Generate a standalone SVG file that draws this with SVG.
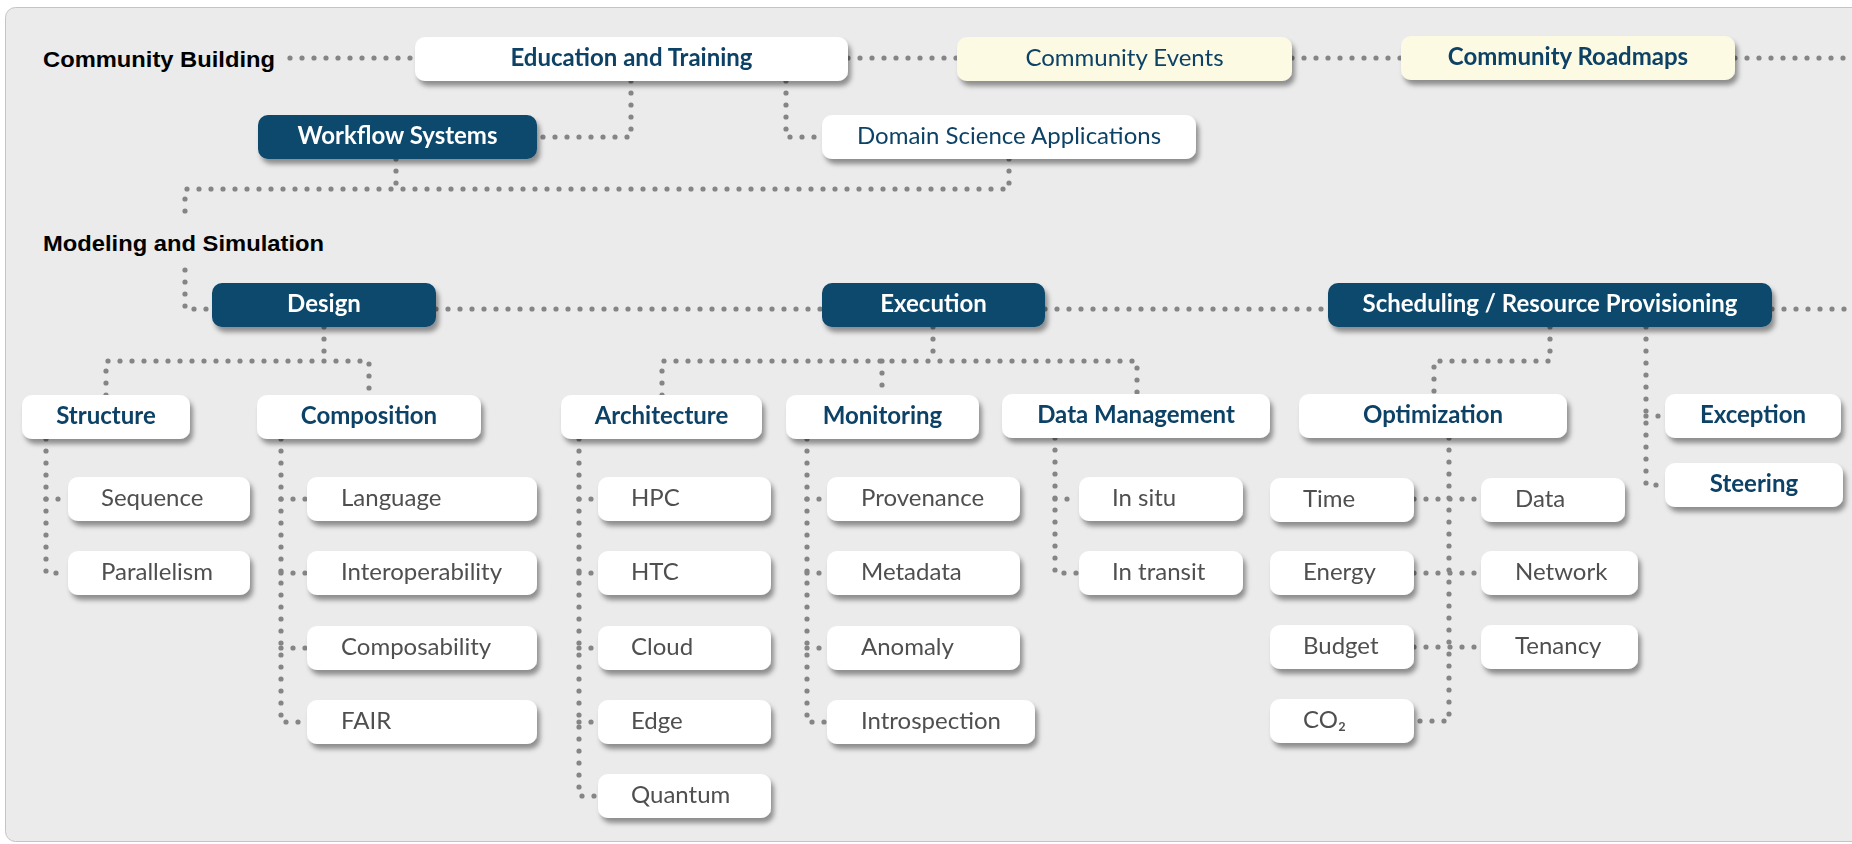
<svg xmlns="http://www.w3.org/2000/svg" width="1852" height="844" viewBox="0 0 1852 844">
  <defs>
    <filter id="shadow" x="-10%" y="-30%" width="130%" height="180%">
      <feDropShadow dx="3" dy="5" stdDeviation="2.6" flood-color="#000" flood-opacity="0.4"/>
    </filter>
    <style>
      .panel { fill: #ebebeb; stroke: #c4c4c4; stroke-width: 1; }
      .section { font-family: "Liberation Sans", Arial, sans-serif; font-weight: bold; font-size: 21.5px; fill: #000; }
      .box { filter: url(#shadow); }
      .box rect { rx: 10; ry: 10; }
      .white rect { fill: #ffffff; }
      .cream rect { fill: #fdfae4; }
      .dark rect { fill: #0a486c; }
      .box text { font-family: Lato, "Noto Sans", sans-serif; font-size: 24px; }
      .head text { font-weight: bold; text-anchor: middle; fill: #0b4266; }
      .dark text { fill: #ffffff; }
      .plain text { font-weight: normal; text-anchor: middle; fill: #0b4266; }
      .leaf text { font-weight: normal; fill: #4f4f4f; }
      .links path { fill: none; stroke: #858585; stroke-width: 5.2; stroke-linecap: round; stroke-linejoin: round; stroke-dasharray: 0 12; }
    </style>
  </defs>

  <!-- background panel -->
  <rect class="panel" x="5.5" y="7.5" width="1860" height="834" rx="10" ry="10"/>

  <!-- section labels -->
  <text class="section" x="43" y="67" textLength="232" lengthAdjust="spacingAndGlyphs">Community Building</text>
  <text class="section" x="43" y="251" textLength="281" lengthAdjust="spacingAndGlyphs">Modeling and Simulation</text>

  <!-- dotted connectors -->
  <g id="connectors" class="links">
    <!-- community building row -->
    <path d="M290 58 H415"/>
    <path d="M848 58 H957"/>
    <path d="M1292 58 H1401"/>
    <path d="M1735 58 H1852"/>
    <path d="M631 81 V137 H537"/>
    <path d="M786 81 V137 H822"/>
    <path d="M396 159 V189"/>
    <path d="M1009 159 V189 H185 V215"/>
    <path d="M185 270 V309 H212"/>
    <!-- modeling and simulation row -->
    <path d="M436 309 H822"/>
    <path d="M1045 309 H1328"/>
    <path d="M1772 309 H1852"/>
    <!-- design -->
    <path d="M324 327 V361"/>
    <path d="M106 395 V361 H369 V395"/>
    <!-- execution -->
    <path d="M933 327 V361"/>
    <path d="M662 395 V361 H1137 V395"/>
    <path d="M882 361 V395"/>
    <!-- scheduling -->
    <path d="M1550 327 V361 H1434 V394"/>
    <path d="M1646 327 V485 H1665"/>
    <path d="M1646 416 H1665"/>
    <!-- structure -->
    <path d="M46 439 V573 H68"/>
    <path d="M46 499 H68"/>
    <!-- composition -->
    <path d="M281 439 V722 H307"/>
    <path d="M281 499 H307"/>
    <path d="M281 573 H307"/>
    <path d="M281 648 H307"/>
    <!-- architecture -->
    <path d="M579 439 V796 H598"/>
    <path d="M579 499 H598"/>
    <path d="M579 573 H598"/>
    <path d="M579 648 H598"/>
    <path d="M579 722 H598"/>
    <!-- monitoring -->
    <path d="M807 439 V722 H827"/>
    <path d="M807 499 H827"/>
    <path d="M807 573 H827"/>
    <path d="M807 648 H827"/>
    <!-- data management -->
    <path d="M1055 438 V573 H1079"/>
    <path d="M1055 499 H1079"/>
    <!-- optimization -->
    <path d="M1449 438 V721 H1414"/>
    <path d="M1414 499 H1481"/>
    <path d="M1414 573 H1481"/>
    <path d="M1414 647 H1481"/>
  </g>

  <!-- community building nodes -->
  <g id="education" class="box white head"><rect x="415" y="37" width="433" height="44"/><text x="631.5" y="66">Education and Training</text></g>
  <g id="events" class="box cream plain"><rect x="957" y="37" width="335" height="44"/><text x="1124.5" y="66">Community Events</text></g>
  <g id="roadmaps" class="box cream head"><rect x="1401" y="36" width="334" height="44"/><text x="1568" y="65">Community Roadmaps</text></g>
  <g id="workflow" class="box dark head"><rect x="258" y="115" width="279" height="44"/><text x="397.5" y="144">Workflow Systems</text></g>
  <g id="domain" class="box white plain"><rect x="822" y="115" width="374" height="44"/><text x="1009" y="144">Domain Science Applications</text></g>

  <!-- modeling and simulation nodes -->
  <g id="design" class="box dark head"><rect x="212" y="283" width="224" height="44"/><text x="324" y="312">Design</text></g>
  <g id="execution" class="box dark head"><rect x="822" y="283" width="223" height="44"/><text x="933.5" y="312">Execution</text></g>
  <g id="scheduling" class="box dark head"><rect x="1328" y="283" width="444" height="44"/><text x="1550" y="312">Scheduling / Resource Provisioning</text></g>

  <g id="structure" class="box white head"><rect x="22" y="395" width="168" height="44"/><text x="106" y="424">Structure</text></g>
  <g id="composition" class="box white head"><rect x="257" y="395" width="224" height="44"/><text x="369" y="424">Composition</text></g>
  <g id="architecture" class="box white head"><rect x="561" y="395" width="201" height="44"/><text x="661.5" y="424">Architecture</text></g>
  <g id="monitoring" class="box white head"><rect x="786" y="395" width="193" height="44"/><text x="882.5" y="424">Monitoring</text></g>
  <g id="data-management" class="box white head"><rect x="1002" y="394" width="268" height="44"/><text x="1136" y="423">Data Management</text></g>
  <g id="optimization" class="box white head"><rect x="1299" y="394" width="268" height="44"/><text x="1433" y="423">Optimization</text></g>
  <g id="exception" class="box white head"><rect x="1665" y="394" width="176" height="44"/><text x="1753" y="423">Exception</text></g>
  <g id="steering" class="box white head"><rect x="1665" y="463" width="178" height="44"/><text x="1754" y="492">Steering</text></g>

  <!-- structure leaves -->
  <g id="sequence" class="box white leaf"><rect x="68" y="477" width="182" height="44"/><text x="101" y="506">Sequence</text></g>
  <g id="parallelism" class="box white leaf"><rect x="68" y="551" width="182" height="44"/><text x="101" y="580">Parallelism</text></g>

  <!-- composition leaves -->
  <g id="language" class="box white leaf"><rect x="307" y="477" width="230" height="44"/><text x="341" y="506">Language</text></g>
  <g id="interoperability" class="box white leaf"><rect x="307" y="551" width="230" height="44"/><text x="341" y="580">Interoperability</text></g>
  <g id="composability" class="box white leaf"><rect x="307" y="626" width="230" height="44"/><text x="341" y="655">Composability</text></g>
  <g id="fair" class="box white leaf"><rect x="307" y="700" width="230" height="44"/><text x="341" y="729">FAIR</text></g>

  <!-- architecture leaves -->
  <g id="hpc" class="box white leaf"><rect x="598" y="477" width="173" height="44"/><text x="631" y="506">HPC</text></g>
  <g id="htc" class="box white leaf"><rect x="598" y="551" width="173" height="44"/><text x="631" y="580">HTC</text></g>
  <g id="cloud" class="box white leaf"><rect x="598" y="626" width="173" height="44"/><text x="631" y="655">Cloud</text></g>
  <g id="edge" class="box white leaf"><rect x="598" y="700" width="173" height="44"/><text x="631" y="729">Edge</text></g>
  <g id="quantum" class="box white leaf"><rect x="598" y="774" width="173" height="44"/><text x="631" y="803">Quantum</text></g>

  <!-- monitoring leaves -->
  <g id="provenance" class="box white leaf"><rect x="827" y="477" width="193" height="44"/><text x="861" y="506">Provenance</text></g>
  <g id="metadata" class="box white leaf"><rect x="827" y="551" width="193" height="44"/><text x="861" y="580">Metadata</text></g>
  <g id="anomaly" class="box white leaf"><rect x="827" y="626" width="193" height="44"/><text x="861" y="655">Anomaly</text></g>
  <g id="introspection" class="box white leaf"><rect x="827" y="700" width="208" height="44"/><text x="861" y="729">Introspection</text></g>

  <!-- data management leaves -->
  <g id="in-situ" class="box white leaf"><rect x="1079" y="477" width="164" height="44"/><text x="1112" y="506">In situ</text></g>
  <g id="in-transit" class="box white leaf"><rect x="1079" y="551" width="164" height="44"/><text x="1112" y="580">In transit</text></g>

  <!-- optimization leaves -->
  <g id="time" class="box white leaf"><rect x="1270" y="478" width="144" height="44"/><text x="1303" y="507">Time</text></g>
  <g id="energy" class="box white leaf"><rect x="1270" y="551" width="144" height="44"/><text x="1303" y="580">Energy</text></g>
  <g id="budget" class="box white leaf"><rect x="1270" y="625" width="144" height="44"/><text x="1303" y="654">Budget</text></g>
  <g id="co2" class="box white leaf"><rect x="1270" y="699" width="144" height="44"/><text x="1303" y="728">CO₂</text></g>
  <g id="data" class="box white leaf"><rect x="1481" y="478" width="144" height="44"/><text x="1515" y="507">Data</text></g>
  <g id="network" class="box white leaf"><rect x="1481" y="551" width="157" height="44"/><text x="1515" y="580">Network</text></g>
  <g id="tenancy" class="box white leaf"><rect x="1481" y="625" width="157" height="44"/><text x="1515" y="654">Tenancy</text></g>
</svg>
